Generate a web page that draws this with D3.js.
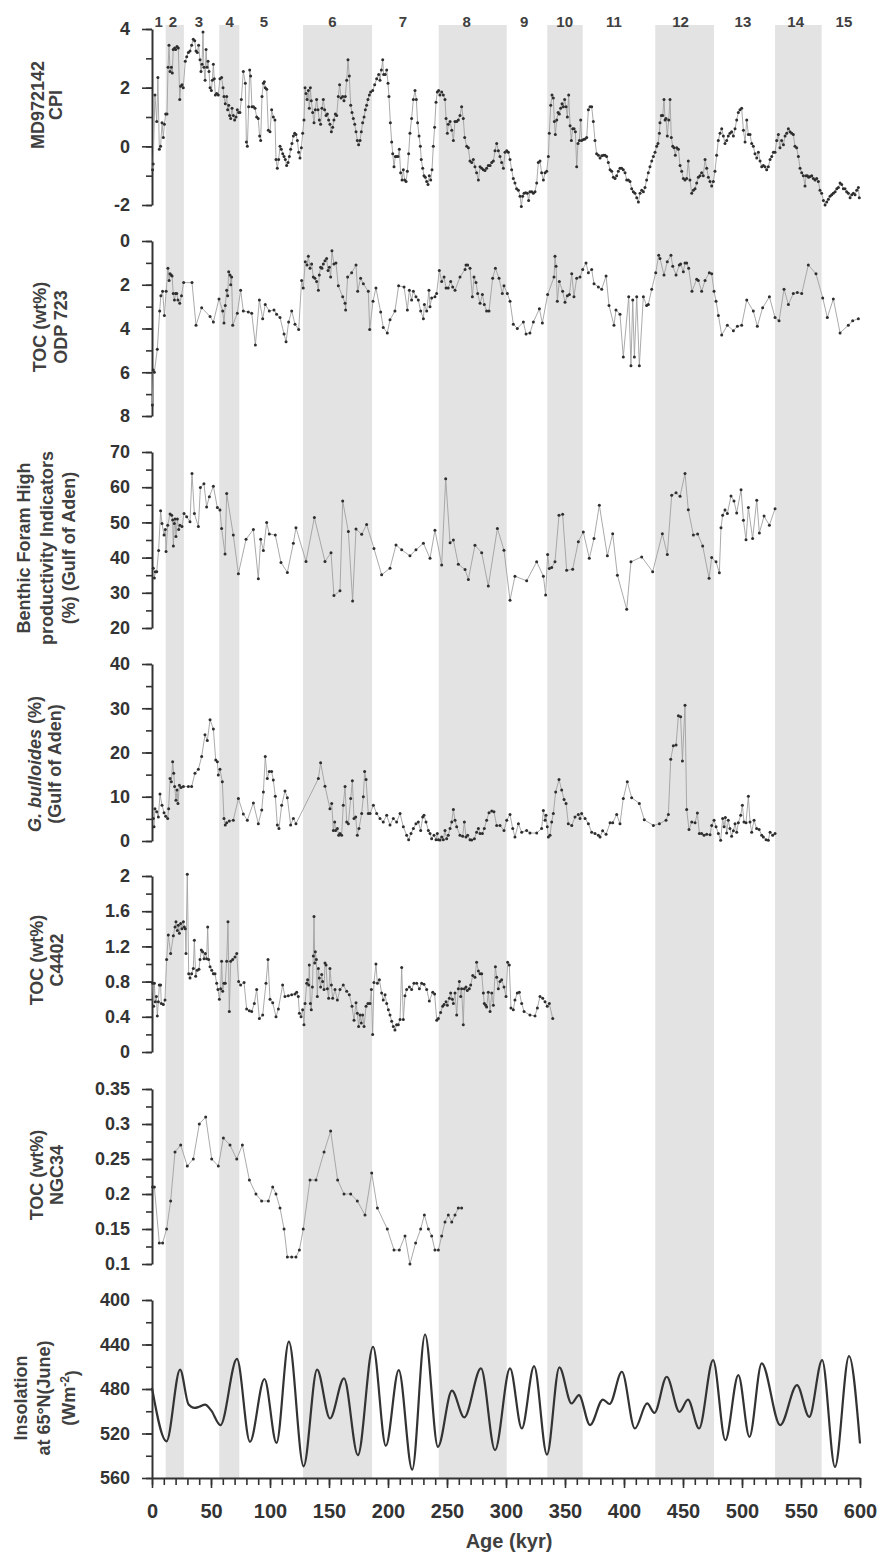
<!DOCTYPE html>
<html>
<head>
<meta charset="utf-8">
<script src="https://cdn.jsdelivr.net/npm/d3@7"></script>
<style>
  body { margin: 0; background: #fff; }
  svg text { font-family: "Liberation Sans", Arial, sans-serif; }
</style>
</head>
<body>
<div id="chart"></div>
<script>
// marine isotope stages: glacial bands and stage numbers
const glacialBands = [[11.6, 27], [57, 74], [128, 186.5], [243, 300.6], [335, 365], [426.5, 476.3], [528, 567.5]];
const stageNames = ["1","2","3","4","5","6","7","8","9","10","11","12","13","14","15"];
const stageAges = [5.7, 17.8, 39.8, 65.8, 94.9, 153, 212.7, 266.7, 315.3, 349.7, 391.5, 448, 500.8, 545.5, 586.4];
const ageTicks = [0, 50, 100, 150, 200, 250, 300, 350, 400, 450, 500, 550, 600];

// [age kyr, value]
const cpiMD972142 = [[0.5,-0.8],[1,-0.6],[2.5,1.75],[4,0.85],[5,2.35],[6.2,-0.1],[7.3,0],[8.5,0.8],[9.6,0.3],[10.5,0.75],[11.6,1.1],[12.7,1.1],[13.6,2.7],[14.4,3.45],[15.3,2.55],[16.4,2.7],[17.2,2.5],[18,3.3],[19.2,3.35],[20,3.3],[21.2,3.4],[22.3,3.35],[23.5,1.6],[24.3,2.05],[25.4,2.1],[26.5,2],[28.2,2.9],[29.4,3.05],[30.8,3.2],[32.2,3.25],[33.6,3.45],[35,3.65],[36.2,3.6],[37.3,3.25],[38.4,3.2],[39.5,3.45],[40.7,2.95],[41.5,2.55],[42.4,2.8],[43.2,3.9],[44,2.7],[45,2.25],[45.8,3.3],[46.6,2.7],[47.5,2.9],[48.3,2.55],[49.2,2],[50.3,1.9],[51.1,2.25],[52,2.8],[52.8,2.3],[53.7,1.75],[54.8,1.8],[56.2,1.75],[57.6,2.3],[59,2.35],[60.2,2],[61,1.7],[62.1,1.45],[63.3,1.7],[64.1,1.25],[65,1.4],[65.8,1.05],[66.7,0.95],[67.8,1.3],[68.9,1.05],[70,0.9],[71.2,1],[72.3,1.25],[73.4,1.15],[74.5,1.15],[75.7,1.6],[77.4,2.55],[79.1,2.15],[80,0.15],[80.8,0],[81.9,1.35],[82.8,2.6],[83.6,2.4],[84.7,1.35],[86,1.35],[87.3,1.3],[88.7,1],[90,0.95],[91.2,0.35],[92.1,0.2],[93.2,1.7],[94.4,2.15],[95.2,2.2],[96,2],[97.2,1.95],[98.6,0.55],[100,0.5],[101.4,1.25],[102.8,1],[104.2,0.9],[105.1,-0.45],[106.2,-0.75],[107.3,-0.45],[108.5,0],[109.6,-0.1],[110.8,-0.25],[111.9,-0.35],[113,-0.45],[114.1,-0.65],[115.3,-0.55],[116.4,-0.35],[117.5,-0.1],[118.6,0.1],[119.8,0.35],[120.9,0.45],[122,0.4],[123.2,0.2],[124.3,-0.2],[125.4,-0.4],[126.6,-0.05],[127.7,0.45],[128.8,0.9],[129.7,2],[130.5,1.8],[131.4,1.6],[132.5,1.9],[133.3,1.3],[134.2,2],[135,1.55],[136.2,1.15],[137.3,0.8],[138.4,1.25],[139.5,1.6],[140.7,1.25],[141.8,0.9],[142.9,0.75],[144,1.3],[145.2,1.6],[146.3,1.25],[147.5,1.05],[148.6,1.1],[149.7,0.9],[150.8,0.75],[152,0.5],[153.1,0.65],[154.2,0.9],[155.4,1.1],[156.5,1.05],[157.9,1.7],[159,2.1],[160.2,1.65],[161.6,1.7],[162.7,1.55],[163.8,1.7],[165,2.25],[166.1,2.95],[167.2,2.4],[168.4,1.4],[169.5,1.15],[170.6,0.95],[171.8,0.75],[172.9,0.5],[174,0.2],[175.1,0.05],[176.3,0.2],[177.4,0.5],[178.5,0.8],[179.7,1],[180.8,1.25],[181.9,1.4],[183,1.6],[184.2,1.75],[185.3,1.85],[187,1.9],[188.7,2.1],[190.4,2.3],[192.1,2.45],[193.2,2.25],[194.4,2.6],[195.5,2.95],[196.3,2.45],[197.6,2.45],[198.9,2.6],[200,2.15],[200.8,1.7],[202,0.8],[203.1,0.15],[204,-0.25],[205.1,-0.7],[206.2,-0.35],[207.3,-0.35],[208.5,-0.35],[209.6,-0.1],[210.7,-0.9],[211.9,-1.15],[213,-0.8],[214.1,-1.15],[215.3,-1.2],[216.4,-0.85],[217.5,-0.25],[218.6,0.45],[220,0.95],[221.5,1.6],[222.9,1.9],[224,1.6],[225.1,0.8],[226.3,0.35],[227.4,0],[228.2,-0.45],[229.4,-0.75],[230.5,-1],[231.6,-1.05],[232.8,-1.2],[233.9,-1.3],[235,-1],[236.2,-1.15],[237.3,-0.8],[238.4,0],[239.5,0.65],[240.7,1.5],[241.8,1.85],[242.9,1.9],[244,1.75],[245.5,1.85],[246.9,1.75],[248.3,1.6],[249.2,0.95],[250.3,0.45],[251.1,0.75],[252.6,0.85],[254,0.55],[255.4,0.2],[256.8,0.85],[258.2,0.85],[259.6,0.9],[261,1.05],[262.4,1.35],[263.8,0.95],[265,0.3],[266.7,0],[268.1,-0.05],[269.5,-0.5],[270.9,-0.55],[272.3,-0.45],[273.7,-0.7],[275.1,-0.9],[276.6,-1.15],[278,-0.7],[279.4,-0.75],[280.8,-0.8],[282.2,-0.82],[283.6,-0.75],[285,-0.65],[286.5,-0.65],[287.9,-0.55],[289.3,-0.5],[290.7,-0.15],[292.1,0.1],[293.5,-0.15],[294.9,-0.35],[296.3,-0.55],[297.8,-0.75],[299.2,-0.2],[300.6,-0.15],[302,-0.2],[303.4,-0.45],[304.8,-0.8],[306.2,-1.1],[307.6,-1.25],[309,-1.45],[310.5,-1.5],[311.9,-1.7],[313,-2.05],[314.1,-1.7],[315.3,-1.6],[316.7,-1.58],[318.1,-1.6],[319.2,-1.85],[320.3,-1.55],[321.8,-1.55],[323.2,-1.6],[324.6,-1.55],[326,-1.25],[327.4,-0.55],[328.8,-0.5],[330.2,-0.9],[331.7,-1.15],[333.1,-0.9],[334.5,-0.85],[335.9,-0.35],[336.7,0.45],[337.9,1.4],[339,1.75],[340.1,1.65],[341,0.85],[341.8,0.4],[343,0.9],[344.1,1.15],[345.2,1.1],[346.3,1.3],[347.5,1.45],[348.6,1.35],[349.7,1.6],[350.9,1.35],[352,1],[353.1,1.75],[354.3,0.7],[355.4,0.2],[356.5,0.6],[357.7,0.6],[358.8,0.5],[359.9,-0.7],[361,0.1],[362.2,0.2],[363.3,0.9],[364.1,0.2],[365.6,0.23],[367,0.25],[368.4,0.3],[369.8,1.25],[371.2,1.35],[372.6,1.35],[374,0.85],[375.4,0.2],[376.8,-0.25],[378.3,-0.3],[379.7,-0.4],[381.1,-0.32],[382.5,-0.3],[383.9,-0.3],[385.3,-0.35],[386.7,-0.55],[388.2,-0.8],[389.6,-0.85],[391,-1.05],[392.4,-1.1],[393.8,-1],[395.2,-0.85],[396.6,-0.75],[398,-0.75],[399.4,-0.8],[400.9,-0.9],[402.3,-1.15],[403.7,-1.15],[405.1,-1.2],[406.5,-1.45],[407.9,-1.55],[409.3,-1.6],[410.8,-1.75],[412.2,-1.9],[413.6,-1.6],[415,-1.5],[416.4,-1.55],[417.8,-1.4],[419.2,-1.15],[420.6,-0.9],[422,-0.7],[423.5,-0.5],[424.9,-0.35],[426.3,-0.2],[427.7,0],[428.8,0.1],[430,0.45],[430.5,0.8],[431.7,1.05],[432.8,1.05],[433.9,1.6],[434.8,0.9],[435.6,0.95],[436.7,0.35],[437.9,0.9],[439,1.6],[440.1,0.3],[441.3,0],[442.4,-0.05],[443.5,-0.3],[444.7,-0.05],[446.1,-0.1],[447.5,-0.65],[448.9,-0.85],[450.3,-1.1],[451.7,-1.15],[453.1,-1.1],[454.5,-0.5],[455.9,-1.15],[457.4,-1.6],[458.8,-1.5],[460.2,-1.45],[461.6,-1.25],[463,-1.05],[464.4,-1],[465.8,-0.9],[467.2,-1],[468.7,-0.45],[470.1,-0.75],[471.5,-1.05],[472.9,-1.2],[474.3,-1.35],[475.7,-1.2],[477.1,-0.85],[478.5,-0.3],[479.9,0.2],[481.4,0.45],[482.8,0.6],[484.2,0.35],[485.6,0.1],[487,0.2],[488.4,0.35],[489.8,0.45],[491.2,0.5],[492.7,0.35],[494.1,0.6],[495.5,0.9],[496.9,1.15],[498.3,1.25],[499.7,1.3],[501.2,0.55],[502.6,0.15],[504,0.9],[505.4,0.4],[506.8,0.4],[508.2,0.1],[509.6,0],[511,-0.25],[512.5,-0.4],[513.9,-0.2],[515.3,-0.5],[516.7,-0.7],[518.1,-0.65],[519.5,-0.7],[520.9,-0.8],[522.3,-0.7],[523.8,-0.45],[525.2,-0.35],[526.6,-0.2],[528,-0.2],[529.4,0.2],[530.8,0.4],[532.2,-0.05],[533.6,0.2],[535.1,0.05],[536.5,0.35],[537.9,0.45],[539.3,0.6],[540.7,0.5],[542.1,0.45],[543.5,0.4],[544.9,0],[546.3,-0.05],[547.8,-0.35],[549.2,-0.75],[550.6,-0.9],[552,-1],[553.4,-1.35],[554.3,-1],[555.4,-1],[556.5,-1.05],[557.8,-1.03],[559.1,-1],[560.5,-1.1],[561.9,-1.15],[563.3,-1.1],[564.7,-1.2],[566.1,-1.5],[567.5,-1.6],[569,-1.85],[570.4,-2],[571.8,-1.9],[573.2,-1.8],[574.6,-1.7],[576,-1.65],[577.4,-1.6],[578.9,-1.55],[580.3,-1.45],[581.7,-1.4],[583.1,-1.25],[584.5,-1.3],[585.9,-1.45],[587.3,-1.45],[588.7,-1.55],[590.1,-1.6],[591.6,-1.75],[593,-1.65],[594.4,-1.6],[595.8,-1.65],[597.2,-1.5],[598.6,-1.4],[599.4,-1.75]];

const tocODP723 = [[0.3,7.5],[1,5.9],[2,6.0],[4.5,4.95],[6.5,3.2],[7.5,2.5],[9,2.3],[10.5,3.4],[12,2.3],[13.5,1.25],[14.5,1.8],[15.3,1.5],[16.2,1.55],[17,1.6],[18,2.4],[19,2.7],[20,2.4],[21,2.4],[22,2.7],[23.5,2.85],[25,2.5],[26.8,1.9],[33.9,1.9],[37.3,3.85],[42.1,3.05],[49.2,3.45],[52,3.7],[56.8,2.65],[59.9,3.2],[61,3.75],[62.1,2.95],[63.3,2.25],[64.1,2.5],[65,1.4],[66.1,1.55],[66.7,2],[67.5,1.65],[68.4,3.85],[72.3,3.3],[75.1,2.25],[77.4,3.2],[81.6,3.25],[84.5,3.3],[87.6,4.75],[91,2.7],[93.8,3.55],[96,2.9],[99.4,3.2],[103.4,3.15],[105.6,3.35],[108.5,3.5],[111.9,4.25],[113.6,4.6],[115.8,3.7],[118.4,3.2],[121.2,3.8],[124.3,4.05],[126.8,1.8],[128.2,2.15],[129.9,0.95],[131.4,1.1],[132.5,0.7],[133.9,1.25],[135.3,1.05],[136.7,1.65],[138.1,1.7],[139.5,1.85],[141,2.25],[141.8,1.55],[142.9,1.2],[144,1.25],[145.2,1.05],[146.6,0.9],[148,0.8],[149.2,1.35],[150.3,1.2],[151.4,1.65],[152.5,0.45],[154.2,1.05],[155.9,1],[157.9,2.05],[161.6,2.55],[163.6,2.85],[164.1,3.15],[165.8,1.65],[169.2,1.45],[172.9,1.1],[174.3,2.3],[176.8,1.7],[179.1,1.95],[183.3,2.3],[184.5,4.05],[187.3,2.75],[189.8,2.15],[193.8,3.25],[196,3.95],[199.4,4.2],[201.7,3.6],[205.9,3.2],[209,2.05],[213.6,2.1],[216.4,3.15],[218.1,2.25],[220,2.7],[221.5,2.3],[223.7,2.55],[225.7,2.7],[227.7,3.2],[230,3.55],[230.8,2.9],[232.8,3.2],[234.7,2.25],[235.6,3.0],[237,2.6],[239.8,2.55],[241.2,2.4],[243.5,1.35],[245.5,1.85],[247.5,1.65],[249.2,2.15],[251,2.15],[253.1,1.85],[254.8,2.1],[256.8,2.25],[261,1.65],[265.3,1.3],[266.1,1.1],[267.5,1.1],[269.5,1.25],[271.5,2.55],[272.9,1.65],[274.6,1.9],[276,2.4],[278,2.85],[280,2.45],[281.6,2.9],[283.6,3.2],[285.6,3.2],[288.7,1.7],[291,1.25],[294.1,1.7],[296.9,2.4],[298.3,2.05],[301.1,2.4],[303.4,2.75],[306.2,3.8],[309.6,4],[314.7,3.7],[317,4.25],[320.3,4.2],[323.2,3.7],[328.3,3.1],[330.8,3.75],[335.3,2.45],[340.7,1.65],[341.5,0.7],[342.4,1.15],[343.5,2.75],[345.2,1.85],[348,2.3],[350,2.8],[352,2.5],[353.7,2.45],[355.7,1.5],[357.6,2.55],[359.9,1.7],[362.7,1.65],[365,1.3],[367.8,1],[369.8,1.45],[372.6,1.3],[374.6,1.95],[378.3,2.1],[381.1,2.2],[384.8,1.6],[387.3,2.95],[391.5,3.85],[393.2,3.15],[396.6,3.35],[399.4,5.3],[404,2.55],[405.9,5.7],[407.4,2.7],[408.8,5.3],[410.8,2.55],[413,5.7],[416.4,2.55],[419.2,2.95],[420.6,2.9],[423.5,2.2],[426.9,1.45],[429.4,0.65],[430.5,0.8],[433.9,1.55],[436.7,0.95],[439.8,0.65],[441.3,1.15],[444.1,1.55],[446.9,1.1],[448,1.05],[450.3,1.4],[451.7,1],[453.1,1],[454.8,1.25],[457.6,2.3],[461.6,1.75],[463,1.8],[465.8,2.3],[468.7,1.8],[472.3,1.45],[474.3,1.5],[476.3,2.3],[478,2.75],[480,3.4],[482.8,4.3],[487.6,3.85],[492.7,4.1],[496.1,3.9],[499.7,3.85],[504,2.7],[509.6,3.2],[513,3.9],[517.5,3.05],[523.2,2.55],[528,3.5],[531.4,3.65],[535.6,2.2],[539.3,2.9],[543.5,2.4],[546.9,2.35],[550.6,2.4],[556.2,1.1],[562.7,1.5],[568.4,2.6],[572.3,3.5],[577.4,2.65],[583.1,4.2],[590.1,3.85],[593.8,3.65],[598.6,3.55]];

const benthicForam = [[1.1,37],[2,34.2],[2.8,36],[4,36],[5.6,42],[7.3,53.3],[8.5,49.7],[10.2,46.4],[11.3,48],[11.9,41.7],[13.3,49.2],[15.3,52.4],[16.7,52],[17.5,50.7],[18.1,43.3],[18.9,49.7],[19.5,51],[20.3,46],[21.5,51],[22.6,48],[23.7,49.2],[25.4,48.8],[27.1,52.5],[29.4,51.6],[32.2,50.2],[33.9,63.9],[35.9,52.5],[39.3,48.8],[41,59.9],[44,61],[46.3,54.4],[48.6,57.3],[52,60.3],[55.4,54.2],[57.6,53.5],[59,48.3],[61.9,41],[63.3,58.2],[68.9,46.4],[73.2,35.4],[79.7,45.2],[85.9,48],[90.1,34],[92.1,45.2],[94.4,42],[97.2,50],[99.4,46.7],[104.5,46.4],[109.3,38.6],[114.7,35.8],[119.8,44.1],[122,48.5],[130.5,38.9],[137.6,51.4],[146.6,38.9],[151.7,41.4],[154.2,29.2],[159.3,30.6],[161.6,56.1],[166.4,47.4],[170,27.7],[172.9,48.1],[177.7,46.6],[181.9,49.4],[188.1,42.6],[194.6,35.1],[201.7,37],[206.8,43.6],[211.6,42.2],[218.6,40.5],[223.7,42.2],[230,44.1],[235.6,39.8],[239.8,47.8],[245.5,37.9],[248.9,62.4],[252.6,44.2],[255.4,45],[259.6,38.1],[265.3,36.6],[268.1,33.8],[273.7,43.5],[279.4,41.4],[285,31.9],[292.7,48.3],[298.3,42.1],[303.4,27.9],[307.6,34.7],[317.5,33.4],[326,38.8],[331.7,34.7],[333.6,29.4],[335.3,40.9],[336.7,36.9],[338.7,37.2],[341.5,38.8],[344.9,52],[348,52.3],[351.4,36.4],[356.5,36.7],[361.3,44.5],[365.5,47.3],[370.6,39.8],[374.6,45.4],[379.1,54.9],[385.9,40.5],[390.4,46.8],[394.4,35],[402.3,25.3],[405.9,38.8],[415,40.2],[424.3,36],[432.5,46.8],[436.7,40.9],[440.4,57.7],[444.1,58.4],[447.5,57.4],[451.7,63.9],[454.5,53.6],[458.8,46.4],[462.4,46.7],[466.7,43.3],[472.1,34.1],[474.3,40],[478,38.8],[480.8,35.7],[482.2,48.5],[483.6,52],[485.6,53.5],[487.6,52.5],[490.7,57.5],[493.2,56.1],[495.5,52.7],[499.2,59.3],[501.2,50.6],[503.4,45.1],[505.4,54.2],[509,45.4],[512.5,56.3],[514.7,47],[518.7,51.8],[523.2,49.2],[528,53.9]];

const gBulloides = [[1.1,5.1],[1.7,3.2],[2.5,7.3],[4,6.6],[5.4,5.4],[6.8,10.6],[8.5,8.1],[10.2,6.4],[11.6,5.6],[13.3,5.1],[14.1,7.3],[15.3,14.1],[16.4,13.4],[17.5,17.9],[18.4,15.3],[19.2,12.3],[20.3,9.2],[21.2,11.5],[22,8.5],[23.2,12.6],[24.6,12.1],[26.6,12.3],[30.8,12.3],[33.6,12.3],[36.4,15.3],[39.3,16.2],[42.1,19.1],[44.9,24],[46.9,22.7],[49.2,27.4],[52,25.3],[54,18.3],[55.4,17.9],[56.2,14.9],[57.6,16.2],[59.6,13.4],[61,5.1],[62.1,3.6],[63.3,4.1],[65.5,4.5],[68.9,4.7],[73.2,9.6],[77.4,6.1],[80.8,4.7],[85.9,8.6],[90.1,3.9],[93,7],[94.4,11.1],[96,19.1],[97.7,14.1],[99.4,15.7],[101.4,15.7],[102.8,13.8],[104.5,10.1],[106.2,3.6],[107.6,2.8],[109.9,8.1],[112.7,11.3],[114.7,9.8],[117.5,3.6],[119.8,5.1],[122,3.9],[141,14.1],[142.9,17.7],[146.6,12.4],[150.8,7.3],[152.3,8.5],[153.7,2.4],[154.8,4.3],[155.6,2.4],[157.1,2.8],[158.2,1.3],[159.3,1.7],[160.7,1.3],[162.1,8.1],[163.6,12.3],[165,4.3],[166.4,3.9],[168.4,9.6],[169.8,13.6],[171.2,5.1],[172.6,5.4],[174,1.3],[175.4,2.8],[177.7,6.2],[179.1,10],[180.2,15.7],[181.4,13.9],[183.3,6.2],[184.8,6.2],[187.6,8.1],[190.4,6.2],[193.2,5.1],[196,4.3],[198.9,5.8],[201.7,3.6],[204.5,5.1],[207.3,4.3],[210.2,6.2],[213,3.2],[215.8,1.3],[217.5,0.3],[219.5,1.7],[221.5,2.8],[223.7,3.9],[225.7,4.3],[227.7,2.4],[229.4,5.4],[230.5,5.8],[232.2,4.3],[234.2,2.4],[235.6,1.7],[237,0.5],[239,1.3],[240.7,0.3],[241.8,1.7],[242.7,0.3],[244.1,0.2],[245.5,0.9],[246.9,0.3],[248.3,2.4],[249.7,0.5],[251.1,1.3],[252.6,2.8],[254,4.3],[255.4,7.1],[256.8,4.7],[258.2,3.2],[261,1.3],[263.3,1.1],[264.7,4.3],[266.1,0.9],[267.5,1.3],[269.5,0.3],[270.9,0.2],[273.2,0.5],[275.1,2],[276.6,2.8],[278,1.7],[280,1.7],[281.6,2.8],[283.6,4.7],[285.6,6.4],[287.9,6.8],[289.8,6.6],[292.1,3.5],[294.9,3.5],[298.3,2.4],[300.6,4.7],[303.4,6],[305.7,2.8],[307.6,0.9],[310.5,3.9],[313.3,2],[317.5,2.4],[320.3,1.8],[326,1.8],[330.2,2.8],[331.7,6.9],[333.1,4.7],[333.9,5.8],[335,3.2],[335.9,0.9],[337.3,1.3],[338.7,4.3],[340.1,6.2],[342.1,11.1],[344.9,13.9],[347.2,11.5],[349.2,9.4],[350.9,8.5],[352.8,3.9],[355.7,3.5],[358.5,5.4],[361.3,6],[362.7,5.1],[364.1,6.2],[367,5.1],[369.8,3.9],[372.6,2],[375.4,1.7],[378.3,1.3],[379.7,0.9],[381.9,2.3],[384.8,1.5],[388.2,4.1],[390.4,4.1],[393.8,6],[396.6,3.9],[399.4,9.6],[402.8,13.4],[406.5,9.8],[413,8.5],[417.2,4.8],[424.9,3.5],[430,3.9],[435.6,4.7],[437.6,6],[439.6,18.5],[441.8,21.5],[444.1,21.7],[446.1,28.3],[448,28.1],[449.5,18.1],[451.7,30.7],[453.1,7.1],[455.1,2.6],[457.4,4.3],[460.2,4.1],[462.2,6.3],[463.9,1.7],[465.8,1.7],[467.8,1.3],[470.1,1.5],[472.9,1.4],[474.3,3.5],[476.3,4.7],[478,3.2],[480,1.7],[481.9,0.15],[483.6,5.1],[484.8,3.2],[485.9,5.3],[487,1.8],[488.4,4.7],[489.8,2.8],[491.2,1.1],[492.7,2.3],[494.1,3.9],[495.5,2],[496.9,4.1],[498.9,5.8],[500.3,8.1],[501.7,4.3],[503.4,4.1],[505.4,10.1],[506.8,4.3],[508.2,2],[510.2,4.7],[512.4,2.8],[514.5,2.6],[516.7,1.3],[518.1,0.9],[520.4,0.3],[522.3,0.15],[523.8,2],[526,1.3],[528,1.7]];

const tocC4402 = [[0.6,0.78],[1.4,0.52],[2,0.78],[2.8,0.57],[3.7,0.63],[4.5,0.41],[5.4,0.57],[6.2,0.76],[7.3,0.76],[7.9,0.55],[9.6,0.54],[11,0.59],[12.4,1.05],[13.8,1.33],[15.8,1.12],[18.1,1.32],[19.5,1.42],[20.3,1.48],[21.5,1.38],[22.3,1.44],[23.2,1.35],[24.3,1.46],[25.4,1.4],[26.6,1.48],[27.4,1.42],[28.2,1.4],[28.8,1.12],[29.9,2.02],[31.1,0.89],[32.2,0.84],[33.6,0.89],[35,0.95],[35.9,1.27],[37,0.86],[38.4,0.93],[39.8,0.94],[40.7,1.05],[41.8,1.16],[42.9,1.14],[44.1,1.06],[45.2,1.12],[46.3,1.06],[47.2,1.42],[48,1.05],[49.2,0.97],[50.6,0.93],[52,0.89],[53.4,0.89],[54.8,0.78],[55.9,0.71],[57.1,0.6],[58.2,0.72],[59,1.03],[59.9,0.69],[61,0.78],[62.1,0.78],[63.3,1.03],[64.4,1.48],[65.5,0.46],[66.7,1.03],[68.4,1.05],[70.3,1.08],[71.8,1.12],[73.4,0.8],[75.1,0.76],[78,0.79],[80.2,0.49],[82.5,0.47],[84.5,0.46],[86.7,0.55],[88.7,0.71],[91,0.38],[93.8,0.42],[96.6,0.78],[98.3,1.05],[100,0.6],[102.3,0.56],[105.1,0.4],[107.1,0.49],[110.7,0.76],[112.7,0.63],[115.5,0.64],[118.4,0.65],[121.2,0.66],[122.6,0.68],[124,0.63],[124.9,0.44],[126.3,0.4],[127.7,0.48],[128.8,0.31],[129.7,0.55],[131.1,0.78],[131.9,0.82],[132.8,0.76],[133.3,0.99],[134.2,0.55],[135,0.48],[135.9,0.74],[136.7,1.09],[137.3,1.54],[137.9,1.01],[138.4,1.14],[139.3,1.05],[140.1,0.63],[141,0.95],[141.8,0.84],[142.9,0.74],[143.8,0.88],[144.6,0.8],[145.8,0.71],[146.6,1.01],[147.5,0.99],[148.6,0.72],[149.7,0.61],[150.8,0.95],[152,0.76],[153.1,0.61],[155.1,0.71],[157.1,0.59],[159.3,0.71],[162.1,0.76],[165,0.69],[167.2,0.65],[169.5,0.52],[171.2,0.36],[172.9,0.56],[174,0.44],[175.1,0.29],[176.3,0.42],[177.4,0.33],[178.5,0.42],[179.7,0.29],[181.4,0.52],[183,0.55],[184.7,0.55],[185.9,0.71],[187,0.2],[188.1,0.79],[189.8,1],[191,0.78],[192.7,0.82],[194.6,0.67],[196,0.59],[197.5,0.65],[198.9,0.55],[200.3,0.48],[201.7,0.42],[203.1,0.35],[204.5,0.29],[205.9,0.25],[207.3,0.31],[208.7,0.31],[210.2,0.37],[211.6,0.96],[213,0.37],[214.4,0.64],[215.8,0.71],[218.1,0.74],[220,0.71],[222,0.78],[224.3,0.78],[226.6,0.72],[228.5,0.78],[230.5,0.77],[232.8,0.71],[235,0.58],[237.9,0.68],[239.5,0.66],[241.3,0.36],[242.7,0.38],[244.6,0.45],[246.3,0.52],[247.5,0.54],[249.2,0.57],[250.3,0.53],[252,0.61],[253.1,0.67],[254.5,0.6],[255.4,0.55],[256.8,0.67],[258.2,0.42],[259.6,0.72],[260.5,0.8],[261.6,0.63],[262.4,0.72],[263.8,0.31],[264.7,0.72],[266.1,0.74],[267.2,0.7],[268.9,0.72],[270.1,0.76],[271.8,0.87],[273.7,0.85],[275.1,1.02],[276.6,0.92],[278,0.89],[279.4,0.89],[280.8,0.67],[281.6,0.55],[282.8,0.53],[283.6,0.51],[285,0.68],[286.5,0.46],[287.9,0.67],[289.3,0.53],[291,0.97],[292.1,0.85],[293.5,0.72],[294.9,0.8],[296.3,0.82],[298.3,0.74],[300,0.63],[301.4,1.02],[302.8,0.99],[304.2,0.5],[306.2,0.48],[307.6,0.59],[309.6,0.67],[311.3,0.68],[313.3,0.55],[315.3,0.46],[320.3,0.42],[324.6,0.41],[326.6,0.5],[328.8,0.63],[331.1,0.61],[333.1,0.57],[335,0.52],[336.7,0.55],[339.6,0.38]];

const tocNGC34 = [[0.5,0.21],[2,0.21],[6.2,0.13],[9,0.13],[12.4,0.15],[15.8,0.19],[19.5,0.26],[24.3,0.27],[29.9,0.24],[35,0.25],[40.1,0.3],[45.5,0.31],[50.6,0.25],[56.2,0.24],[60.5,0.28],[66.1,0.27],[71.8,0.25],[76.6,0.27],[82.5,0.22],[88.1,0.2],[92.9,0.19],[98.6,0.19],[102.3,0.21],[105.1,0.2],[108.5,0.18],[111.9,0.15],[114.7,0.11],[118.4,0.11],[122,0.11],[124.9,0.12],[128.2,0.15],[133.9,0.22],[139,0.22],[145.8,0.26],[151.4,0.29],[157.3,0.22],[162.7,0.2],[168.4,0.2],[174,0.19],[180.5,0.17],[186.2,0.23],[191,0.18],[199.4,0.15],[205.1,0.12],[209.6,0.12],[214.4,0.14],[218.6,0.1],[223.4,0.13],[227.7,0.15],[230.8,0.17],[234.2,0.15],[237,0.14],[239.8,0.12],[242.7,0.12],[245.5,0.14],[248.3,0.16],[251.1,0.17],[254,0.16],[256.8,0.17],[259.6,0.18],[262.4,0.18]];

const insolation65N = [[0,479],[12.3,527],[23.8,462.5],[31,494],[36,497],[40,496],[45,494],[50,499],[58,512.5],[72,453],[83,527.5],[95.3,471],[105.5,528.5],[116,437.5],[128.5,549.5],[139.9,462.5],[150.8,506.5],[162.7,470.5],[174.5,539.5],[187.3,442],[198.2,531],[209.1,463],[220.5,552.5],[231.4,431],[242.3,532],[254.2,481.5],[264.6,505.5],[278.8,461.5],[290.7,535],[303.4,461.5],[313.4,515.5],[323.8,459.5],[334.7,539],[345.2,460.5],[355.6,493],[361.8,485.5],[371.2,512.5],[382.1,489.5],[387.8,493.5],[398.2,464.5],[409.2,515.5],[419.6,493],[425.8,501.5],[436.2,469],[447,500.5],[454.2,489.5],[463.6,515.5],[475.5,454],[485.9,526],[496.9,467.5],[506.3,523],[516.7,457],[532.4,512.5],[546.6,476.5],[557,505],[567.9,454],[578.8,550],[590.7,450.5],[600,529]];

// panel layout (pixel ranges) and axis set-up
const panels = [
    {data: cpiMD972142, domain: [-2, 4], range: [205, 29], major: 2, minor: 1,
     title: [["MD972142"], ["CPI"]], titleX: [38, 56], titleY: 105},
    {data: tocODP723, domain: [0, 8], range: [241, 416], major: 2, minor: 1,
     title: [["TOC (wt%)"], ["ODP 723"]], titleX: [40, 61], titleY: 327},
    {data: benthicForam, domain: [20, 70], range: [628, 452], major: 10, minor: 5,
     title: [["Benthic Foram High"], ["productivity Indicators"], ["(%) (Gulf of Aden)"]], titleX: [24, 47, 69], titleY: 548},
    {data: gBulloides, domain: [0, 40], range: [841, 664], major: 10, minor: 5,
     title: [["G.", true], [" bulloides", true], [" (%)"], ["(Gulf of Aden)"]], titleX: [35, 55], titleY: 764, italicLine: true},
    {data: tocC4402, domain: [0, 2], range: [1052, 876], major: 0.4, minor: 0.2,
     title: [["TOC (wt%)"], ["C4402"]], titleX: [37, 57], titleY: 960},
    {data: tocNGC34, domain: [0.1, 0.35], range: [1264, 1089], major: 0.05, minor: 0.025,
     title: [["TOC (wt%)"], ["NGC34"]], titleX: [37, 57], titleY: 1175},
    {data: insolation65N, domain: [400, 560], range: [1300, 1478], major: 40, minor: 20, smooth: true,
     title: [["Insolation"], ["at 65°N(June)"], ["(Wm"]], titleX: [21, 44, 69], titleY: 1398}
];

const width = 877, height = 1555;
const axisX = 152, axisBottom = 1478, bandTop = 25;
const textColor = "#333";

const svg = d3.select("#chart").append("svg")
    .attr("width", width)
    .attr("height", height);

const xScale = d3.scaleLinear().domain([0, 600]).range([axisX, 860]);

// glacial bands behind everything
svg.append("g").attr("class", "bands")
    .selectAll("rect")
    .data(glacialBands)
    .join("rect")
    .attr("x", d => xScale(d[0]))
    .attr("width", d => xScale(d[1]) - xScale(d[0]))
    .attr("y", bandTop)
    .attr("height", axisBottom - bandTop)
    .attr("fill", "#e3e3e3");

svg.append("g").attr("class", "stages")
    .selectAll("text")
    .data(stageNames)
    .join("text")
    .attr("x", (d, i) => xScale(stageAges[i]))
    .attr("y", 27)
    .attr("text-anchor", "middle")
    .style("font-size", "15px")
    .style("font-weight", "bold")
    .attr("fill", "#404040")
    .text(d => d);

const stepTicks = (domain, step) => d3.range(Math.round((domain[1] - domain[0]) / step) + 1)
    .map(i => +(domain[0] + i * step).toFixed(4));

panels.forEach((p, idx) => {
    const yScale = d3.scaleLinear().domain(p.domain).range(p.range);
    const g = svg.append("g").attr("class", "panel" + idx);

    // minor ticks first, then labelled ticks with the spine
    g.append("g")
        .attr("transform", "translate(" + axisX + ",0)")
        .call(d3.axisLeft(yScale).tickValues(stepTicks(p.domain, p.minor)).tickSize(6).tickFormat(""))
        .call(a => a.select(".domain").remove())
        .call(a => a.selectAll("line").attr("stroke", textColor).attr("stroke-width", 1.6));

    g.append("g")
        .attr("transform", "translate(" + axisX + ",0)")
        .call(d3.axisLeft(yScale).tickValues(stepTicks(p.domain, p.major)).tickSize(10).tickSizeOuter(0).tickPadding(12)
            .tickFormat(d => String(+d.toFixed(3))))
        .call(a => a.select(".domain").attr("stroke", textColor).attr("stroke-width", 2))
        .call(a => a.selectAll("line").attr("stroke", textColor).attr("stroke-width", 1.6))
        .call(a => a.selectAll("text")
            .attr("fill", textColor)
            .style("font-size", "18px")
            .style("font-weight", "bold")
            .style("font-family", "'Liberation Sans', Arial, sans-serif"));

    const line = d3.line()
        .x(d => xScale(d[0]))
        .y(d => yScale(d[1]));

    if (p.smooth) {
        line.curve(d3.curveMonotoneX);
        g.append("path")
            .datum(p.data)
            .attr("d", line)
            .attr("fill", "none")
            .attr("stroke", "#333")
            .attr("stroke-width", 2.2);
    } else {
        g.append("path")
            .datum(p.data)
            .attr("d", line)
            .attr("fill", "none")
            .attr("stroke", "#a0a0a0")
            .attr("stroke-width", 0.9);
        g.selectAll(".markerCircle")
            .data(p.data)
            .join("circle")
            .attr("class", "markerCircle")
            .attr("cx", d => xScale(d[0]))
            .attr("cy", d => yScale(d[1]))
            .attr("r", 1.5)
            .attr("fill", "#2e2e2e");
    }

    // rotated titles
    const lines = p.italicLine ? [[p.title[0], p.title[1], p.title[2]], [p.title[3]]] : p.title.map(t => [t]);
    lines.forEach((parts, li) => {
        const t = g.append("text")
            .attr("transform", "translate(" + p.titleX[li] + "," + p.titleY + ") rotate(-90)")
            .attr("text-anchor", "middle")
            .attr("dy", "0.35em")
            .attr("fill", "#404040")
            .style("font-size", "18px")
            .style("font-weight", "bold");
        parts.forEach(part => {
            t.append("tspan")
                .style("font-style", part[1] ? "italic" : "normal")
                .text(part[0]);
        });
        if (p.smooth && li === 2) {
            t.append("tspan").attr("dy", "-0.5em").style("font-size", "12px").text("-2");
            t.append("tspan").attr("dy", "0.5em").text(")");
        }
    });
});

// shared age axis
const xAxisG = svg.append("g")
    .attr("class", "xAxisG")
    .attr("transform", "translate(0," + axisBottom + ")");

xAxisG.call(d3.axisBottom(xScale).tickValues(d3.range(0, 601, 10)).tickSize(7).tickFormat(""))
    .call(a => a.select(".domain").remove())
    .call(a => a.selectAll("line").attr("stroke", textColor).attr("stroke-width", 1.6));

xAxisG.append("g")
    .call(d3.axisBottom(xScale).tickValues(ageTicks).tickSize(10).tickSizeOuter(0).tickPadding(16))
    .call(a => a.select(".domain").attr("stroke", textColor).attr("stroke-width", 2))
    .call(a => a.selectAll("line").attr("stroke", textColor).attr("stroke-width", 1.6))
    .call(a => a.selectAll("text")
        .attr("fill", textColor)
        .style("font-size", "20px")
        .style("font-weight", "bold")
        .style("font-family", "'Liberation Sans', Arial, sans-serif"));

svg.append("text")
    .attr("class", "x-axis-label")
    .attr("x", 509)
    .attr("y", 1548)
    .attr("text-anchor", "middle")
    .attr("fill", "#404040")
    .style("font-size", "20px")
    .style("font-weight", "bold")
    .text("Age (kyr)");
</script>
</body>
</html>
